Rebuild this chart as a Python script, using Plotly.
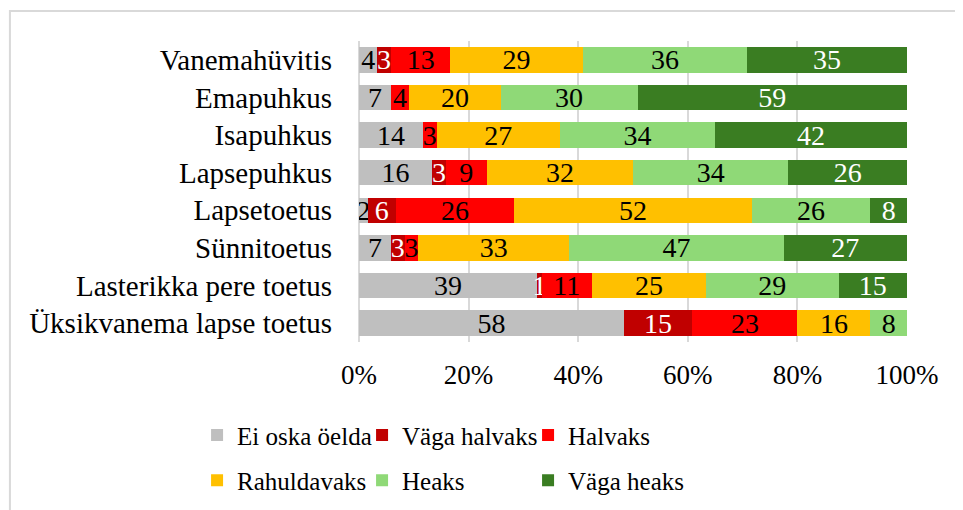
import plotly.graph_objects as go

# survey answers (counts per benefit), drawn as 100% stacked bars
categories = [
    "Vanemahüvitis",
    "Emapuhkus",
    "Isapuhkus",
    "Lapsepuhkus",
    "Lapsetoetus",
    "Sünnitoetus",
    "Lasterikka pere toetus",
    "Üksikvanema lapse toetus",
]

ei_oska = [4, 7, 14, 16, 2, 7, 39, 58]
vaga_halvaks = [3, 0, 0, 3, 6, 3, 1, 15]
halvaks = [13, 4, 3, 9, 26, 3, 11, 23]
rahuldavaks = [29, 20, 27, 32, 52, 33, 25, 16]
heaks = [36, 30, 34, 34, 26, 47, 29, 8]
vaga_heaks = [35, 59, 42, 26, 8, 27, 15, 0]

x_ticks = [0, 20, 40, 60, 80, 100]
x_ticklabels = ["0%", "20%", "40%", "60%", "80%", "100%"]

# (name, values, bar colour, label colour, legend slot: column, row)
series = [
    ("Ei oska öelda", ei_oska, "#BFBFBF", "black", 0, 0),
    ("Väga halvaks", vaga_halvaks, "#C00000", "white", 1, 0),
    ("Halvaks", halvaks, "#FF0000", "black", 2, 0),
    ("Rahuldavaks", rahuldavaks, "#FFC000", "black", 0, 1),
    ("Heaks", heaks, "#8FD977", "black", 1, 1),
    ("Väga heaks", vaga_heaks, "#3A7D22", "white", 2, 1),
]

FONT = "Liberation Serif"

# each legend entry gets its own legend box so the grid matches the original
col_x = [-0.2955, -0.2955 + 165 / 548, -0.2955 + 331 / 548]
row_y = [-0.31, -0.46]

fig = go.Figure()
legends = {}
for i, (name, vals, color, txtcolor, col, row) in enumerate(series):
    key = "legend" if i == 0 else f"legend{i + 1}"
    fig.add_trace(go.Bar(
        y=categories,
        x=vals,
        name=name,
        orientation="h",
        marker=dict(color=color, line=dict(width=0)),
        text=[str(v) if v > 0 else "" for v in vals],
        textposition="inside",
        insidetextanchor="middle",
        textangle=0,
        constraintext="none",
        textfont=dict(family=FONT, size=28, color=txtcolor),
        legend=key,
        showlegend=True,
        hoverinfo="name+x",
    ))
    legends[key] = dict(
        orientation="h",
        font=dict(family=FONT, size=25, color="black"),
        bgcolor="rgba(0,0,0,0)",
        xanchor="left",
        yanchor="middle",
        x=col_x[col],
        y=row_y[row],
    )

fig.update_layout(
    width=963,
    height=510,
    showlegend=True,
    barmode="stack",
    barnorm="percent",
    bargap=0.32,
    plot_bgcolor="white",
    paper_bgcolor="white",
    margin=dict(l=351, r=64, t=33, b=176),
    font=dict(family=FONT, color="black"),
    xaxis=dict(
        range=[0, 100],
        tickvals=x_ticks,
        ticktext=x_ticklabels,
        showgrid=True,
        gridcolor="#D9D9D9",
        gridwidth=1.5,
        zeroline=True,
        zerolinecolor="#D9D9D9",
        zerolinewidth=1.5,
        ticks="",
        ticklabelstandoff=14,
        tickfont=dict(family=FONT, size=27, color="black"),
        fixedrange=True,
    ),
    yaxis=dict(
        autorange="reversed",
        showgrid=False,
        ticks="",
        ticklabelstandoff=26,
        tickfont=dict(family=FONT, size=29, color="black"),
        fixedrange=True,
    ),
    shapes=[
        dict(
            type="rect",
            xref="paper", yref="paper",
            x0=-0.637, x1=1.2, y0=-0.7, y1=1.1,
            line=dict(color="#D9D9D9", width=2),
            fillcolor="rgba(0,0,0,0)",
            layer="below",
        )
    ],
    **legends,
)

fig.write_html("out.html")
